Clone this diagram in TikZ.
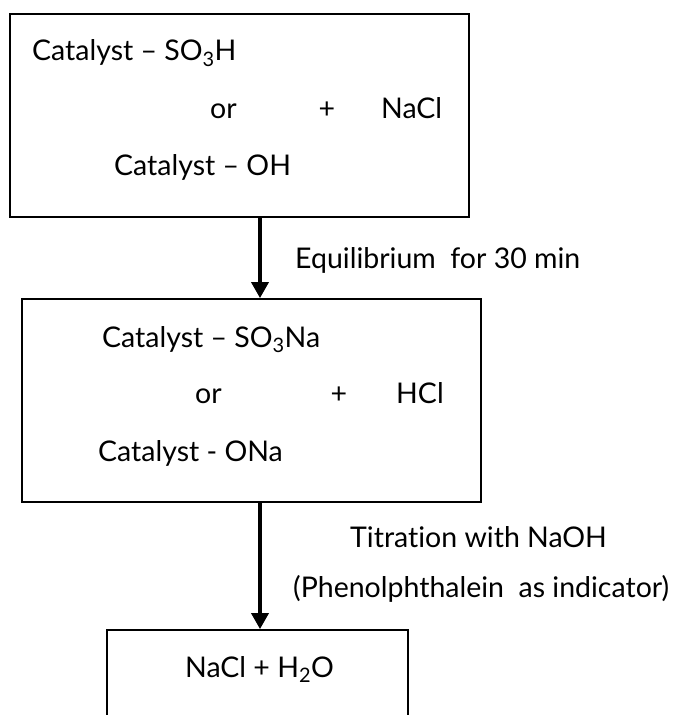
\documentclass[tikz,border=0pt]{standalone}
\usepackage{fontspec}
\setmainfont{Lato}[RawFeature={-liga}]
\usetikzlibrary{arrows.meta}
\tikzset{
  x=1bp, y=-1bp,
  boxnode/.style={draw, line width=1.8bp, inner sep=0pt, rectangle},
  txt/.style={anchor=base west, inner sep=0pt, font=\fontsize{28.6}{32}\selectfont},
  txtc/.style={anchor=base, inner sep=0pt, font=\fontsize{28.6}{32}\selectfont},
  flow/.style={line width=3.6bp, -{Triangle[width=17bp,length=16bp]}}
}
\begin{document}
\begin{tikzpicture}
\clip (0,0) rectangle (680,715);
\fill[white] (0,0) rectangle (680,715);
% boxes
\node[boxnode, minimum width=459bp, minimum height=203bp] (box1) at (239.5,115.5) {};
\node[boxnode, minimum width=459bp, minimum height=203bp] (box2) at (251.5,400.5) {};
\node[boxnode, minimum width=301bp, minimum height=140bp] (box3) at (257.5,700) {};
% box 1 text
\node[txt] (t1a) at (32,61) {Catalyst – SO\textsubscript{3}H};
\node[txt] (t1b) at (210,119) {or};
\node[txtc] (t1c) at (327,119) {+};
\node[txt] (t1d) at (381,119) {NaCl};
\node[txt] (t1e) at (114,175) {Catalyst – OH};
% box 2 text
\node[txt] (t2a) at (102,347) {Catalyst – SO\textsubscript{3}Na};
\node[txt] (t2b) at (195,403) {or};
\node[txtc] (t2c) at (339,403) {+};
\node[txt] (t2d) at (396,403) {HCl};
\node[txt] (t2e) at (98,461) {Catalyst - ONa};
% box 3 text
\node[txt] (t3) at (185,677) {NaCl + H\textsubscript{2}O};
% arrow labels
\node[txt] (eq) at (295,268) {Equilibrium\ \ for 30 min};
\node[txt] (ti) at (350,547) {Titration with NaOH};
\node[txt] (ph) at (293,597) {(Phenolphthalein\ \ as indicator)};
% arrows
\coordinate (ax) at (260,0);
\draw[flow] (box1.south -| ax) -- (box2.north -| ax);
\draw[flow] (box2.south -| ax) -- (box3.north -| ax);
\end{tikzpicture}
\end{document}
